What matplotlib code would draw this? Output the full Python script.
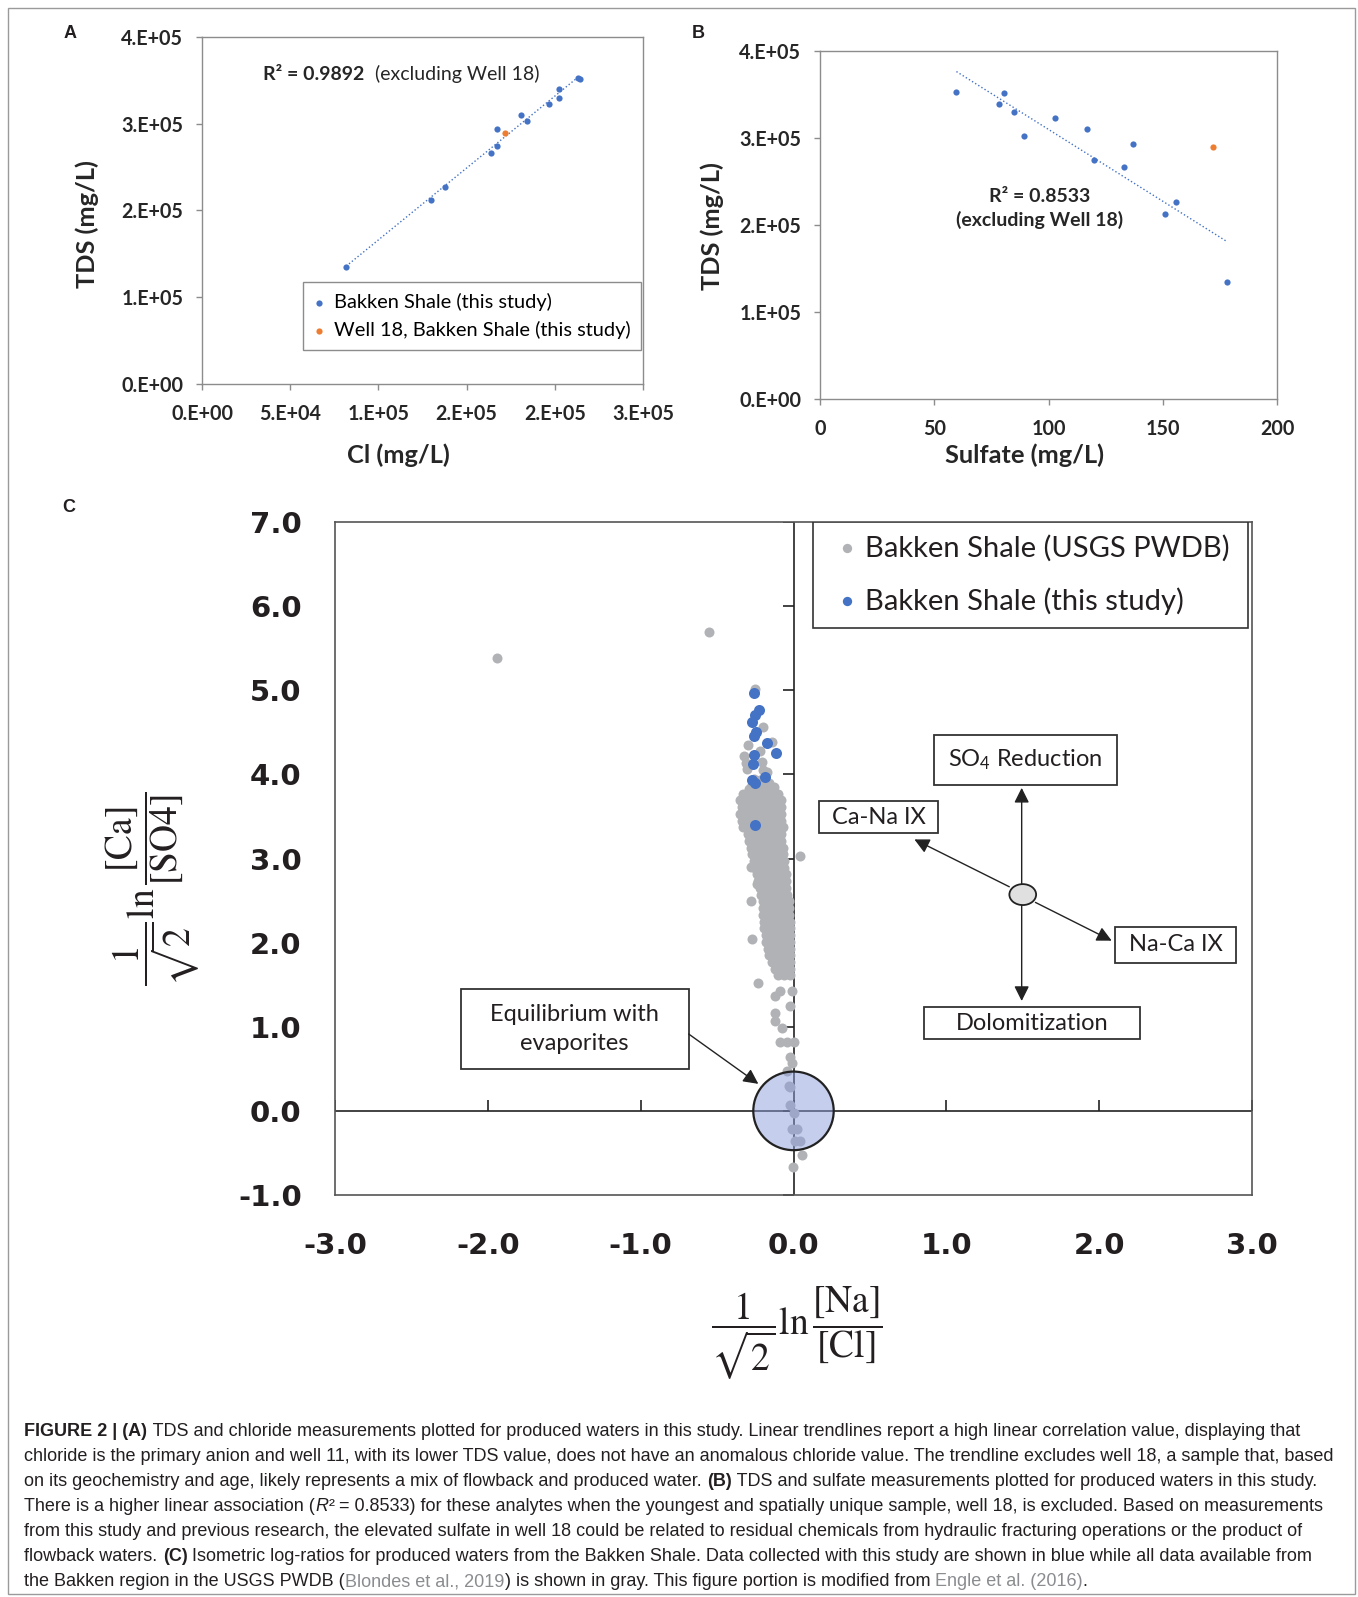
import matplotlib
matplotlib.use('Agg')
import matplotlib.pyplot as plt
import numpy as np
from matplotlib.patches import Ellipse, Rectangle

W, H = 1358, 1597

# ---- panels A and B: wells sampled in this study ----
tds = [134600, 212600, 226600, 266800, 274600, 293600, 302600, 310600, 322700, 329800, 339500, 351600, 352400]
chloride = [81700, 129800, 137700, 164000, 167000, 167000, 184200, 181000, 196800, 202100, 202100, 214200, 212900]
sulfate = [178.0, 151.1, 156.0, 132.9, 120.0, 137.0, 89.2, 117.0, 103.0, 85.0, 78.5, 80.5, 59.7]
well18_tds = 289600
well18_cl = 171900
well18_so4 = 171.9

a_xticks = [0, 50000, 100000, 150000, 200000, 250000]
a_xlabels = ['0.E+00', '5.E+04', '1.E+05', '2.E+05', '2.E+05', '3.E+05']
tds_ticks = [0, 100000, 200000, 300000, 400000]
tds_labels = ['0.E+00', '1.E+05', '2.E+05', '3.E+05', '4.E+05']
b_xticks = [0, 50, 100, 150, 200]

# ---- panel C: isometric log-ratios ----
# USGS PWDB samples (gray), read row by row from the cloud
gray_x = [
    -1.94, -0.552, 0.043,
    -0.252, -0.198, -0.296, -0.143, -0.218, -0.324, -0.31, -0.209, -0.302, -0.175, -0.198, -0.289, -0.26, -0.22, -0.16,
    -0.28, -0.24, -0.20, -0.16, -0.13,
    -0.33, -0.29, -0.25, -0.21, -0.17, -0.13, -0.10,
    -0.35, -0.31, -0.27, -0.23, -0.19, -0.15, -0.11, -0.08,
    -0.34, -0.30, -0.26, -0.22, -0.18, -0.14, -0.10, -0.08,
    -0.35, -0.31, -0.27, -0.23, -0.19, -0.15, -0.11, -0.08,
    -0.34, -0.30, -0.26, -0.22, -0.18, -0.14, -0.10, -0.08,
    -0.33, -0.29, -0.25, -0.21, -0.17, -0.13, -0.09, -0.07,
    -0.30, -0.26, -0.22, -0.18, -0.14, -0.10, -0.08,
    -0.29, -0.25, -0.21, -0.17, -0.13, -0.09, -0.08,
    -0.28, -0.24, -0.20, -0.16, -0.12, -0.09, -0.07,
    -0.27, -0.23, -0.19, -0.15, -0.11, -0.07,
    -0.26, -0.22, -0.18, -0.14, -0.10, -0.06,
    -0.25, -0.21, -0.17, -0.13, -0.09, -0.06, -0.28,
    -0.24, -0.20, -0.16, -0.12, -0.08, -0.05,
    -0.23, -0.19, -0.15, -0.11, -0.07, -0.05, -0.24,
    -0.22, -0.18, -0.14, -0.10, -0.06, -0.05,
    -0.21, -0.17, -0.13, -0.09, -0.05, -0.04,
    -0.20, -0.16, -0.12, -0.08, -0.04, -0.03, -0.28,
    -0.20, -0.16, -0.12, -0.08, -0.04, -0.03,
    -0.20, -0.16, -0.12, -0.08, -0.04, -0.03,
    -0.19, -0.15, -0.11, -0.07, -0.03, -0.02,
    -0.19, -0.15, -0.11, -0.07, -0.03, -0.02,
    -0.18, -0.14, -0.10, -0.06, -0.02, -0.27,
    -0.18, -0.14, -0.10, -0.06, -0.02,
    -0.17, -0.13, -0.09, -0.05, -0.02,
    -0.16, -0.12, -0.08, -0.04, -0.02,
    -0.14, -0.10, -0.06, -0.02,
    -0.12, -0.08, -0.04, -0.02,
    -0.10, -0.06, -0.02, -0.23,
    -0.012, -0.12, -0.09, -0.023, -0.121, -0.121, -0.077,
    -0.088, -0.044, 0.0, -0.023, -0.012, -0.044, -0.03, -0.02,
    -0.023, 0.0, -0.012, 0.022, 0.011, 0.044, 0.054, -0.006,
]
gray_y = [
    5.38, 5.69, 3.03,
    5.02, 4.56, 4.35, 4.39, 4.28, 4.22, 4.13, 4.15, 4.06, 4.03, 4.05, 3.83, 3.95, 3.93, 3.90,
    3.85, 3.85, 3.85, 3.85, 3.85,
    3.77, 3.77, 3.77, 3.77, 3.77, 3.77, 3.77,
    3.69, 3.69, 3.69, 3.69, 3.69, 3.69, 3.69, 3.69,
    3.61, 3.61, 3.61, 3.61, 3.61, 3.61, 3.61, 3.61,
    3.53, 3.53, 3.53, 3.53, 3.53, 3.53, 3.53, 3.53,
    3.45, 3.45, 3.45, 3.45, 3.45, 3.45, 3.45, 3.45,
    3.37, 3.37, 3.37, 3.37, 3.37, 3.37, 3.37, 3.37,
    3.29, 3.29, 3.29, 3.29, 3.29, 3.29, 3.29,
    3.21, 3.21, 3.21, 3.21, 3.21, 3.21, 3.21,
    3.13, 3.13, 3.13, 3.13, 3.13, 3.13, 3.13,
    3.05, 3.05, 3.05, 3.05, 3.05, 3.05,
    2.97, 2.97, 2.97, 2.97, 2.97, 2.97,
    2.89, 2.89, 2.89, 2.89, 2.89, 2.89, 2.90,
    2.81, 2.81, 2.81, 2.81, 2.81, 2.81,
    2.73, 2.73, 2.73, 2.73, 2.73, 2.73, 2.70,
    2.65, 2.65, 2.65, 2.65, 2.65, 2.65,
    2.57, 2.57, 2.57, 2.57, 2.57, 2.57,
    2.49, 2.49, 2.49, 2.49, 2.49, 2.49, 2.50,
    2.41, 2.41, 2.41, 2.41, 2.41, 2.41,
    2.33, 2.33, 2.33, 2.33, 2.33, 2.33,
    2.25, 2.25, 2.25, 2.25, 2.25, 2.25,
    2.17, 2.17, 2.17, 2.17, 2.17, 2.17,
    2.09, 2.09, 2.09, 2.09, 2.09, 2.04,
    2.01, 2.01, 2.01, 2.01, 2.01,
    1.93, 1.93, 1.93, 1.93, 1.93,
    1.85, 1.85, 1.85, 1.85, 1.85,
    1.77, 1.77, 1.77, 1.77,
    1.69, 1.69, 1.69, 1.69,
    1.61, 1.61, 1.61, 1.52,
    1.42, 1.37, 1.42, 1.25, 1.16, 1.07, 0.99,
    0.82, 0.82, 0.82, 0.645, 0.57, 0.47, 0.30, 0.28,
    0.07, -0.03, -0.22, -0.22, -0.36, -0.36, -0.52, -0.67,
]
# this study (blue)
blue_x = [-0.26, -0.226, -0.252, -0.274, -0.245, -0.258, -0.173, -0.115, -0.256, -0.268, -0.187, -0.274, -0.25, -0.252]
blue_y = [4.97, 4.76, 4.70, 4.62, 4.50, 4.46, 4.37, 4.25, 4.23, 4.12, 3.97, 3.93, 3.90, 3.40]

c_xticks = [-3, -2, -1, 0, 1, 2, 3]
c_yticks = [-1, 0, 1, 2, 3, 4, 5, 6, 7]
c_series = ['Bakken Shale (USGS PWDB)', 'Bakken Shale (this study)']

BLUE = '#4472c4'
ORANGE = '#ed7d31'
GRAY = '#b1b2b5'
SPINE = '#8c8c8c'
INK = '#262626'

plt.rcParams['font.family'] = ['Lato', 'DejaVu Sans']
plt.rcParams['mathtext.fontset'] = 'custom'
plt.rcParams['mathtext.rm'] = 'Lato'
plt.rcParams['mathtext.it'] = 'Lato:italic'
plt.rcParams['mathtext.bf'] = 'Lato:bold'


def box(left, top, right, bottom):
    # pixel box -> figure fraction rect
    return [left / W, 1 - bottom / H, (right - left) / W, (bottom - top) / H]


def fx(x):
    return x / W


def fy(y):
    return 1 - y / H


fig = plt.figure(figsize=(W / 100, H / 100), dpi=100)


def style_excel(ax):
    for s in ax.spines.values():
        s.set_color(SPINE)
        s.set_linewidth(1.0)
    ax.tick_params(direction='out', length=4.5, width=1, color=SPINE, pad=9,
                   labelsize=14.2, labelcolor=INK)
    ax.tick_params(axis='x', pad=10)
    for lab in ax.get_xticklabels() + ax.get_yticklabels():
        lab.set_fontweight('bold')


# ---------------- panel A ----------------
axa = fig.add_axes(box(202, 37, 643, 384))
axa.scatter(chloride, tds, s=20, color=BLUE, lw=0, zorder=3, label='Bakken Shale (this study)')
axa.scatter([well18_cl], [well18_tds], s=20, color=ORANGE, lw=0, zorder=3,
            label='Well 18, Bakken Shale (this study)')
ca = np.polyfit(chloride, tds, 1)
xa = np.array([min(chloride), max(chloride)])
axa.plot(xa, np.polyval(ca, xa), ls=':', lw=1.0, color=BLUE, zorder=2)
axa.set_xlim(0, 250000)
axa.set_ylim(0, 400000)
axa.set_xticks(a_xticks, a_xlabels)
axa.set_yticks(tds_ticks, tds_labels)
style_excel(axa)
leg = axa.legend(loc='upper left', bbox_to_anchor=(0.228, 0.293), borderaxespad=0,
                 frameon=True, fancybox=False, edgecolor=SPINE, framealpha=1,
                 prop={'family': 'Lato', 'size': 14.4}, handlelength=0.5, handletextpad=0.5,
                 borderpad=0.55, labelspacing=0.5, markerscale=1.0)
leg.get_frame().set_linewidth(1.0)

fig.text(fx(263), fy(74), 'R² = 0.9892', fontsize=14, fontweight='bold', color=INK, va='center')
fig.text(fx(375), fy(74), '(excluding Well 18)', fontsize=14, color=INK, va='center')
fig.text(fx(87), fy(224), 'TDS (mg/L)', fontsize=18.3, fontweight='bold', rotation=90,
         ha='center', va='center', color=INK)
fig.text(fx(398), fy(455), 'Cl (mg/L)', fontsize=18.3, fontweight='bold', ha='center', va='center', color=INK)
fig.text(fx(70), fy(34), 'A', fontsize=13, fontweight='bold', family='Liberation Sans',
         ha='center', va='center', color='#231f20')

# ---------------- panel B ----------------
axb = fig.add_axes(box(820, 51, 1277, 399))
axb.scatter(sulfate, tds, s=20, color=BLUE, lw=0, zorder=3)
axb.scatter([well18_so4], [well18_tds], s=20, color=ORANGE, lw=0, zorder=3)
cb = np.polyfit(sulfate, tds, 1)
xb = np.array([min(sulfate), max(sulfate)])
axb.plot(xb, np.polyval(cb, xb), ls=':', lw=1.0, color=BLUE, zorder=2)
axb.set_xlim(0, 200)
axb.set_ylim(0, 400000)
axb.set_xticks(b_xticks, [str(v) for v in b_xticks])
axb.set_yticks(tds_ticks, tds_labels)
style_excel(axb)
axb.text(96, 219000, 'R² = 0.8533\n(excluding Well 18)', fontsize=14, fontweight='bold',
         ha='center', va='center', color=INK, linespacing=1.45)
fig.text(fx(712), fy(226), 'TDS (mg/L)', fontsize=18.3, fontweight='bold', rotation=90,
         ha='center', va='center', color=INK)
fig.text(fx(1025), fy(455), 'Sulfate (mg/L)', fontsize=18.3, fontweight='bold', ha='center',
         va='center', color=INK)
fig.text(fx(698), fy(34), 'B', fontsize=13, fontweight='bold', family='Liberation Sans',
         ha='center', va='center', color='#231f20')

# ---------------- panel C ----------------
axc = fig.add_axes(box(335, 522, 1252, 1195))
axc.set_xlim(-3, 3)
axc.set_ylim(-1, 7)
for s in axc.spines.values():
    s.set_color('#555555')
    s.set_linewidth(1.2)
axc.axhline(0, color='#222222', lw=1.2, zorder=1)
axc.axvline(0, color='#222222', lw=1.2, zorder=1)
# tick marks sit on the zero lines (Excel style)
axc.plot(np.zeros(len(c_yticks)), c_yticks, ls='none', marker=0, ms=8, mew=1.2, color='#222222', zorder=1)
axc.plot(c_xticks, np.zeros(len(c_xticks)), ls='none', marker=2, ms=8, mew=1.2, color='#222222', zorder=1)

axc.scatter(gray_x, gray_y, s=52, color=GRAY, lw=0, zorder=2)
axc.add_patch(Ellipse((0, 0), 0.526, 0.934, fc=(0.55, 0.62, 0.86, 0.5), ec='#222222', lw=1.6, zorder=3))
axc.scatter(blue_x, blue_y, s=63, color=BLUE, lw=0, zorder=4)

axc.set_xticks(c_xticks, ['%.1f' % v for v in c_xticks])
axc.set_yticks(c_yticks, ['%.1f' % v for v in c_yticks])
axc.tick_params(length=0, labelsize=21, labelcolor='#231f20')
axc.tick_params(axis='y', pad=24)
axc.tick_params(axis='x', pad=27)
for lab in axc.get_xticklabels() + axc.get_yticklabels():
    lab.set_fontweight('bold')
    lab.set_family('DejaVu Sans')

# legend box drawn by hand (Excel puts more room left of the markers than above them)
axc.add_patch(Rectangle((0.128, 5.741), 2.846, 1.259, fc='white', ec='#333333', lw=1.2, zorder=6))
for (label, col), ly in zip(zip(c_series, [GRAY, BLUE]), [6.685, 6.056]):
    axc.scatter([0.348], [ly], s=45, color=col, lw=0, zorder=7)
    axc.text(0.468, ly, label, fontsize=21, ha='left', va='center', color='#231f20', zorder=7)

# process boxes
boxes = [
    ('SO$_4$ Reduction', 0.921, 3.878, 2.115, 4.470),
    ('Ca-Na IX', 0.167, 3.298, 0.946, 3.678),
    ('Na-Ca IX', 2.106, 1.761, 2.896, 2.189),
    ('Dolomitization', 0.854, 0.852, 2.268, 1.232),
    ('Equilibrium with\nevaporites', -2.178, 0.495, -0.686, 1.449),
]
for label, x0, y0, x1, y1 in boxes:
    axc.add_patch(Rectangle((x0, y0), x1 - x0, y1 - y0, fc='white', ec='#333333', lw=1.3, zorder=5))
    axc.text((x0 + x1) / 2, (y0 + y1) / 2, label, fontsize=17, ha='center', va='center',
             color='#231f20', zorder=6, linespacing=1.45)

axc.add_patch(Ellipse((1.50, 2.571), 0.175, 0.249, fc='#e0e0e0', ec='#222222', lw=1.3, zorder=5))
arrow = dict(arrowstyle='-|>,head_length=0.5,head_width=0.25', color='#222222', lw=1.0,
             shrinkA=0, shrinkB=0, mutation_scale=18)
for start, tip in [((1.493, 2.696), (1.493, 3.84)),
                   ((1.493, 2.446), (1.493, 1.306)),
                   ((1.412, 2.664), (0.791, 3.227)),
                   ((1.583, 2.478), (2.082, 2.023)),
                   ((-0.686, 0.914), (-0.230, 0.321))]:
    axc.annotate('', xy=tip, xytext=start, arrowprops=arrow, zorder=5)

fig.text(fx(797), fy(1333), r'$\dfrac{1}{\sqrt{2}}\ln\dfrac{[\mathrm{Na}]}{[\mathrm{Cl}]}$',
         fontsize=27, ha='center', va='center', math_fontfamily='stix', color='#231f20')
fig.text(fx(153), fy(889), r'$\dfrac{1}{\sqrt{2}}\ln\dfrac{[\mathrm{Ca}]}{[\mathrm{SO4}]}$',
         fontsize=27, ha='center', va='center', rotation=90, math_fontfamily='stix', color='#231f20')
fig.text(fx(69), fy(507), 'C', fontsize=13, fontweight='bold', family='Liberation Sans',
         ha='center', va='center', color='#231f20')

# ---------------- caption ----------------
CAP = '#231f20'
LINK = '#8a8c8f'
N, B, I = 'normal', 'bold', 'italic'
caption = [
    [('FIGURE 2 | (A)', B, CAP), (' TDS and chloride measurements plotted for produced waters in this study. '
     'Linear trendlines report a high linear correlation value, displaying that', N, CAP)],
    [('chloride is the primary anion and well 11, with its lower TDS value, does not have an anomalous '
      'chloride value. The trendline excludes well 18, a sample that, based', N, CAP)],
    [('on its geochemistry and age, likely represents a mix of flowback and produced water. ', N, CAP),
     ('(B)', B, CAP), (' TDS and sulfate measurements plotted for produced waters in this study.', N, CAP)],
    [('There is a higher linear association (', N, CAP), ('R', I, CAP), ('²', N, CAP),
     (' = 0.8533) for these analytes when the youngest and spatially unique sample, well 18, is excluded. '
      'Based on measurements', N, CAP)],
    [('from this study and previous research, the elevated sulfate in well 18 could be related to residual '
      'chemicals from hydraulic fracturing operations or the product of', N, CAP)],
    [('flowback waters. ', N, CAP), ('(C)', B, CAP),
     (' Isometric log-ratios for produced waters from the Bakken Shale. Data collected with this study are '
      'shown in blue while all data available from', N, CAP)],
    [('the Bakken region in the USGS PWDB (', N, CAP), ('Blondes et al., 2019', N, LINK),
     (') is shown in gray. This figure portion is modified from ', N, CAP), ('Engle et al. (2016)', N, LINK),
     ('.', N, CAP)],
]
renderer = fig.canvas.get_renderer()


def seg_width(s, **kw):
    t1 = fig.text(0, 0, s + '|', **kw)
    w1 = t1.get_window_extent(renderer=renderer).width
    t1.remove()
    t2 = fig.text(0, 0, '|', **kw)
    w2 = t2.get_window_extent(renderer=renderer).width
    t2.remove()
    return w1 - w2


cap_size = 12.95
for i, line in enumerate(caption):
    x = 24.5
    base = 1435.5 + i * 25.1
    for s, kind, col in line:
        kw = dict(fontsize=cap_size, family='Liberation Sans', color=col,
                  fontweight='bold' if kind == B else 'normal',
                  fontstyle='italic' if kind == I else 'normal')
        fig.text(fx(x), fy(base), s, va='baseline', ha='left', **kw)
        x += seg_width(s, **kw)

# outer frame
fig.add_artist(Rectangle((fx(8), fy(1594)), (1355 - 8) / W, (1594 - 8) / H, transform=fig.transFigure,
                         fill=False, ec='#9a9a9a', lw=1.0))

fig.savefig('out.png', dpi=100)
